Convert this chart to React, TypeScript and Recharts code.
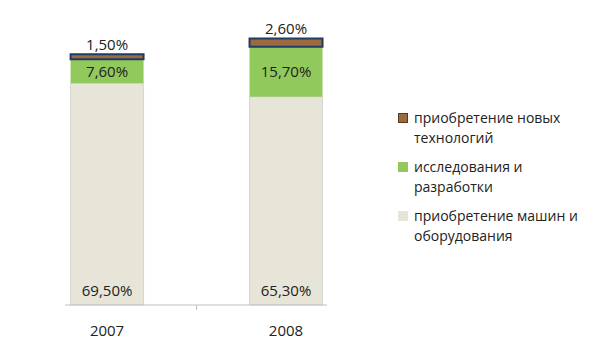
import * as React from "react";
import { Bar, BarChart, LabelList, XAxis, YAxis } from "recharts";

// Values (percent shares by year).
const years = [2007, 2008];
const machinery = [69.5, 65.3];
const research = [7.6, 15.7];
const newTech = [1.5, 2.6];

const SERIES = [
  { key: "newTech", name: "приобретение новых технологий", color: "#9C6A3C" },
  { key: "research", name: "исследования и разработки", color: "#92C95C" },
  { key: "machinery", name: "приобретение машин и оборудования", color: "#E6E5D8" },
];

const FONT = "'Open Sans', sans-serif";
const TEXT = "#222";

const data = years.map((year, i) => ({
  year,
  machinery: machinery[i],
  research: research[i],
  newTech: newTech[i],
}));

const pct = (v: number) => v.toFixed(2).replace(".", ",") + "%";

// Excel places the category tick between the two bars; labels sit under each bar.
function YearTick(props: any) {
  const { x, y, payload } = props;
  if (!Number.isInteger(payload.value)) {
    return <line x1={x} x2={x} y1={y} y2={y + 5} stroke="#BFBFBF" />;
  }
  return (
    <text x={x} y={y + 31} textAnchor="middle" fontSize={15} fill={TEXT} fontFamily={FONT}>
      {payload.value}
    </text>
  );
}

function BottomLabel(props: any) {
  const { x, y, width, height, value } = props;
  return (
    <text
      x={x + width / 2}
      y={y + height - 9}
      textAnchor="middle"
      fontSize={15}
      fill={TEXT}
      fontFamily={FONT}
    >
      {pct(value)}
    </text>
  );
}

export default function App() {
  return (
    <div style={{ position: "relative", width: 600, height: 360, background: "#fff" }}>
      <style>{`body{margin:0}`}</style>
      <BarChart
        width={600}
        height={360}
        data={data}
        margin={{ top: 18, right: 273, bottom: 15, left: 65 }}
      >
        <XAxis
          dataKey="year"
          type="number"
          domain={[2006.765, 2008.229]}
          ticks={[2007, 2007.5, 2008]}
          allowDataOverflow
          height={40}
          tickSize={0}
          tickMargin={0}
          tickLine={false}
          axisLine={{ stroke: "#BFBFBF" }}
          tick={<YearTick />}
          interval={0}
        />
        <YAxis hide domain={[0, 90]} />
        <Bar
          dataKey="machinery"
          stackId="s"
          barSize={73}
          fill={SERIES[2].color}
          stroke="#D6D6D6"
          strokeWidth={1}
          isAnimationActive={false}
        >
          <LabelList dataKey="machinery" content={<BottomLabel />} />
        </Bar>
        <Bar
          dataKey="research"
          stackId="s"
          barSize={73}
          fill={SERIES[1].color}
          isAnimationActive={false}
        >
          <LabelList
            dataKey="research"
            position="center"
            formatter={(v: any) => pct(v)}
            style={{ fontSize: 15, fill: TEXT, fontFamily: FONT }}
          />
        </Bar>
        <Bar
          dataKey="newTech"
          stackId="s"
          barSize={73}
          fill={SERIES[0].color}
          stroke="#1F3B66"
          strokeWidth={2}
          isAnimationActive={false}
        >
          <LabelList
            dataKey="newTech"
            position="top"
            offset={4}
            formatter={(v: any) => pct(v)}
            style={{ fontSize: 15, fill: TEXT, fontFamily: FONT }}
          />
        </Bar>
      </BarChart>
      <div
        style={{
          position: "absolute",
          left: 398,
          top: 108,
          width: 180,
          fontFamily: FONT,
          fontSize: 14,
          lineHeight: "20px",
          color: TEXT,
        }}
      >
        {SERIES.map((s) => (
          <div key={s.key} style={{ display: "flex", marginBottom: 9 }}>
            <span
              style={{
                width: 10,
                height: 10,
                marginTop: 5,
                marginRight: 6,
                flex: "none",
                background: s.color,
                border: s.key === "newTech" ? "1px solid #5A3A1E" : "none",
                boxSizing: "border-box",
              }}
            />
            <span style={{ width: 164 }}>{s.name}</span>
          </div>
        ))}
      </div>
    </div>
  );
}
